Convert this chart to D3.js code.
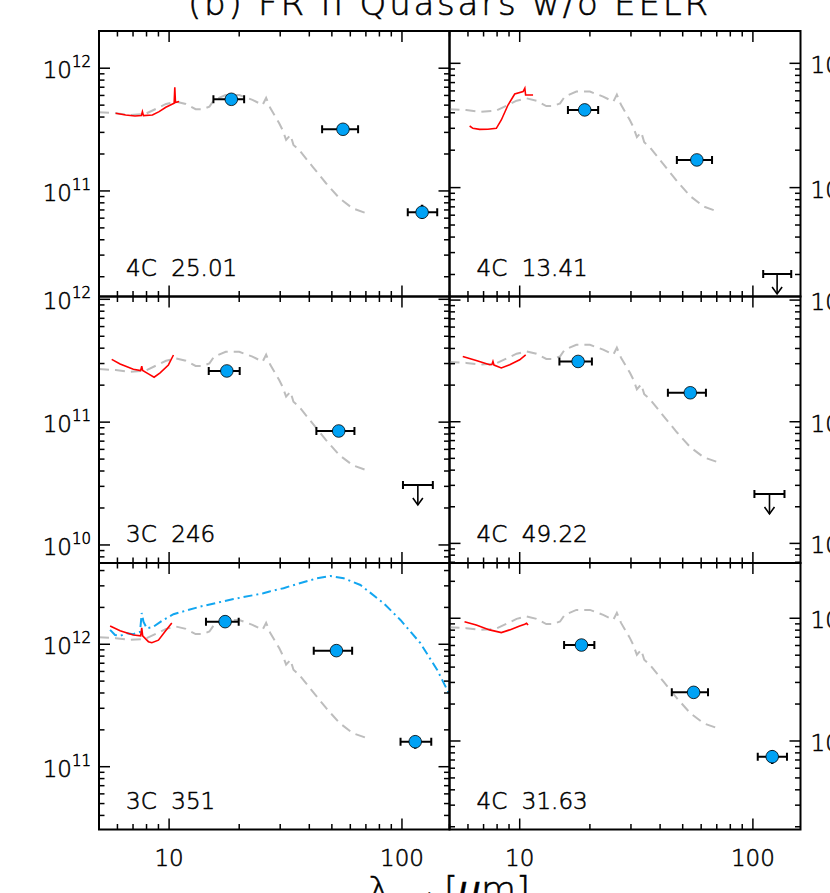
<!DOCTYPE html>
<html>
<head>
<meta charset="utf-8">
<script src="https://cdn.jsdelivr.net/npm/d3@7"></script>
<style>
  body { margin: 0; background: #fff; }
  svg { display: block; font-family: "DejaVu Sans", "Liberation Sans", sans-serif; font-weight: 200; }
  svg text { fill: #000; stroke: #000; stroke-width: 0.55; }
</style>
</head>
<body>
<svg id="chart" width="830" height="893"></svg>
<script>

// ---- data ----
const title = "(b) FR II Quasars w/o EELR";
const names = ["4C  25.01", "4C  13.41", "3C  246", "4C  49.22", "3C  351", "4C  31.63"];
const xDomain = [5, 160];
const xLabels = [10, 100];
const yDomains = [
  [1.38e10, 2.01e12], [1.33e10, 1.82e12],
  [7.13e9, 1.054e12], [6.9e9, 1.07e12],
  [3.07e10, 4.61e12], [1.9e10, 2.82e12]
];

// scaled template (grey dashed), normalised to its 20 um peak
const templateWave = [5.0, 5.9, 6.8, 7.9, 8.9, 9.7, 10.7, 11.8, 13.0, 13.9, 14.9, 15.6, 17.5, 20.0, 22.8,
  25.2, 26.1, 27.2, 29.7, 30.7, 31.8, 33.2, 34.2, 36.2, 41.3, 47.2, 53.9, 61.5, 70.1];
const templateRel = [0.723, 0.710, 0.687, 0.701, 0.780, 0.845, 0.883, 0.845, 0.766, 0.766, 0.804, 0.912, 1.0, 1.0, 0.912,
  0.830, 0.946, 0.783, 0.589, 0.519, 0.431, 0.472, 0.392, 0.356, 0.261, 0.191, 0.144, 0.119, 0.109];
const templatePeak = [6.05e11, 5.92e11, 3.74e11, 4.29e11, 1.58e12, 1.17e12];

// IRS spectra (red)
const irsWave = [
  [5.9, 6.51, 7.14, 7.6, 7.68, 7.76, 8.48, 9.06, 9.68, 10.51, 10.58, 10.65, 11.04],
  [6.1, 6.3, 6.73, 7.3, 7.94, 8.34, 8.91, 9.52, 10.34, 10.52, 10.6, 10.75, 11.41],
  [5.67, 6.16, 7.02, 7.55, 7.63, 7.7, 8.15, 8.62, 9.15, 9.93, 10.44],
  [5.7, 6.51, 7.43, 7.6, 7.68, 7.76, 8.34, 9.06, 10.0, 10.61],
  [5.58, 6.16, 7.02, 7.55, 7.63, 7.7, 8.15, 8.43, 9.0, 9.61, 10.27],
  [5.8, 6.51, 7.43, 8.34, 9.06, 10.0, 10.51, 10.7, 10.86]
];
const irsFlux = [
  [4.30e11, 4.16e11, 4.08e11, 4.11e11, 4.43e11, 4.11e11, 4.16e11, 4.43e11, 4.81e11, 5.19e11, 7.0e11, 5.25e11, 5.35e11],
  [3.13e11, 3.0e11, 2.94e11, 2.95e11, 3.0e11, 3.5e11, 4.62e11, 5.66e11, 5.92e11, 6.3e11, 5.56e11, 5.56e11, 5.56e11],
  [3.24e11, 2.97e11, 2.69e11, 2.63e11, 2.86e11, 2.63e11, 2.47e11, 2.32e11, 2.52e11, 2.92e11, 3.52e11],
  [3.44e11, 3.19e11, 2.94e11, 2.95e11, 3.13e11, 2.92e11, 2.77e11, 2.94e11, 3.23e11, 3.55e11],
  [1.41e12, 1.29e12, 1.19e12, 1.17e12, 1.36e12, 1.17e12, 1.05e12, 1.03e12, 1.08e12, 1.27e12, 1.49e12],
  [9.37e11, 8.81e11, 8.04e11, 7.64e11, 8.04e11, 8.65e11, 8.93e11, 9.1e11, 8.81e11]
];

// 3C 351 model (blue dash-dot)
const fitPanel = 4;
const fitWave = [5.58, 5.86, 6.16, 6.58, 7.02, 7.5, 7.63, 7.76, 8.02, 8.56, 9.45, 10.44, 13.6, 18.9, 25.4,
  27.0, 31.0, 33.2, 43.2, 49.3, 56.2, 66.3, 83.5, 98.5, 120, 141.7, 161.7];
const fitFlux = [1.31e12, 1.19e12, 1.17e12, 1.23e12, 1.21e12, 1.26e12, 1.80e12, 1.53e12, 1.35e12, 1.39e12, 1.58e12, 1.76e12, 2.03e12, 2.34e12, 2.61e12,
  2.70e12, 2.87e12, 2.99e12, 3.46e12, 3.61e12, 3.46e12, 3.05e12, 2.16e12, 1.58e12, 1.02e12, 6.17e11, 3.73e11];

// photometry (blue circles) with wavelength ranges
const photWave = [[18.5, 55.8, 122], [19.0, 57.5], [17.7, 53.5], [17.8, 53.9], [17.4, 52.3, 114], [18.4, 55.7, 121]];
const photWaveLo = [[15.5, 45.4, 105.9], [16.1, 47.2], [14.8, 42.9], [14.8, 43.2], [14.4, 41.8, 98.6], [15.5, 44.9, 104.9]];
const photWaveHi = [[21.0, 64.8, 141.7], [21.7, 66.8], [20.1, 62.5], [20.4, 62.9], [19.9, 61.1, 133.6], [20.9, 64.2, 140]];
const photFlux = [[5.58e11, 3.18e11, 6.7e10], [4.22e11, 1.67e11], [2.61e11, 8.47e10], [3.13e11, 1.73e11], [1.53e12, 8.87e11, 1.60e11], [6.05e11, 2.49e11, 7.45e10]];
const photFluxLo = [[5.58e11, 3.18e11, 5.9e10], [4.22e11, 1.67e11], [2.61e11, 8.47e10], [3.13e11, 1.73e11], [1.53e12, 8.87e11, 1.40e11], [6.05e11, 2.49e11, 6.5e10]];
const photFluxHi = [[5.58e11, 3.18e11, 7.7e10], [4.22e11, 1.67e11], [2.61e11, 8.47e10], [3.13e11, 1.73e11], [1.53e12, 8.87e11, 1.79e11], [6.05e11, 2.49e11, 8.45e10]];

// 160 um upper limits
const limWave = [null, 127, 117, 117.8, null, null];
const limWaveLo = [null, 110.7, 101, 101.5, null, null];
const limWaveHi = [null, 146, 135.7, 136.6, null, null];
const limFlux = [null, 2.02e10, 3.08e10, 2.55e10, null, null];

// ---- layout ----
const colX = [[99, 449.5], [449.5, 800.5]];
const rowY = [[31, 296.5], [296.5, 563], [563, 829.5]];
const blue = "#00a2f5";

const svg = d3.select("#chart");

function isDecade(t) {
  return Math.abs(Math.log10(t) - Math.round(Math.log10(t))) < 1e-6;
}

names.forEach((name, i) => {
  const col = i % 2, row = Math.floor(i / 2);
  const [x0, x1] = colX[col];
  const [y0, y1] = rowY[row];
  const x = d3.scaleLog().domain(xDomain).range([x0, x1]);
  const y = d3.scaleLog().domain(yDomains[i]).range([y1, y0]);

  const g = svg.append("g");

  svg.append("clipPath").attr("id", "clip" + i)
    .append("rect")
    .attr("x", x0).attr("y", y0)
    .attr("width", x1 - x0).attr("height", y1 - y0);

  const plot = g.append("g").attr("clip-path", `url(#clip${i})`);
  const line = d3.line().x(d => x(d[0])).y(d => y(d[1]));

  // template
  plot.append("path")
    .datum(templateWave.map((w, k) => [w, templateRel[k] * templatePeak[i]]))
    .attr("d", line)
    .attr("fill", "none")
    .attr("stroke", "#bdbdbd")
    .attr("stroke-width", 2)
    .attr("stroke-dasharray", "10,6");

  // model for 3C 351
  if (i == fitPanel) {
    plot.append("path")
      .datum(fitWave.map((w, k) => [w, fitFlux[k]]))
      .attr("d", line)
      .attr("fill", "none")
      .attr("stroke", "#12a6f0")
      .attr("stroke-width", 2)
      .attr("stroke-dasharray", "9,4,2,4");
  }

  // IRS spectrum
  plot.append("path")
    .datum(irsWave[i].map((w, k) => [w, irsFlux[i][k]]))
    .attr("d", line)
    .attr("fill", "none")
    .attr("stroke", "#ff0000")
    .attr("stroke-width", 1.6);

  // upper limit
  if (limWave[i] != null) {
    const ly = y(limFlux[i]);
    const lx = x(limWave[i]);
    const ul = plot.append("g").attr("stroke", "#000").attr("stroke-width", 2).attr("fill", "none");
    ul.append("line").attr("x1", x(limWaveLo[i])).attr("x2", x(limWaveHi[i])).attr("y1", ly).attr("y2", ly);
    ul.append("line").attr("x1", x(limWaveLo[i])).attr("x2", x(limWaveLo[i])).attr("y1", ly - 4).attr("y2", ly + 4);
    ul.append("line").attr("x1", x(limWaveHi[i])).attr("x2", x(limWaveHi[i])).attr("y1", ly - 4).attr("y2", ly + 4);
    ul.append("line").attr("x1", lx).attr("x2", lx).attr("y1", ly).attr("y2", ly + 20).attr("stroke-width", 1.6);
    ul.append("path").attr("d", `M${lx - 5},${ly + 13}L${lx},${ly + 20}L${lx + 5},${ly + 13}`).attr("stroke-width", 1.6);
  }

  // photometry
  const pts = photWave[i].map((w, k) => ({
    w: w, lo: photWaveLo[i][k], hi: photWaveHi[i][k],
    f: photFlux[i][k], flo: photFluxLo[i][k], fhi: photFluxHi[i][k]
  }));
  const pg = plot.selectAll("g.pt").data(pts).join("g").attr("class", "pt")
    .attr("stroke", "#000").attr("stroke-width", 2);
  pg.append("line").attr("x1", d => x(d.lo)).attr("x2", d => x(d.hi)).attr("y1", d => y(d.f)).attr("y2", d => y(d.f));
  pg.append("line").attr("x1", d => x(d.lo)).attr("x2", d => x(d.lo)).attr("y1", d => y(d.f) - 4).attr("y2", d => y(d.f) + 4);
  pg.append("line").attr("x1", d => x(d.hi)).attr("x2", d => x(d.hi)).attr("y1", d => y(d.f) - 4).attr("y2", d => y(d.f) + 4);
  pg.append("line").attr("x1", d => x(d.w)).attr("x2", d => x(d.w)).attr("y1", d => y(d.fhi)).attr("y2", d => y(d.flo)).attr("stroke-width", 2.5);
  pg.append("circle").attr("cx", d => x(d.w)).attr("cy", d => y(d.f)).attr("r", 6.3)
    .attr("fill", blue).attr("stroke-width", 0.8);

  // ticks on all four sides, pointing inward
  const ticks = g.append("g").attr("stroke", "#000").attr("stroke-width", 1.5);
  x.ticks().forEach(t => {
    const len = isDecade(t) ? 11 : 5.5;
    ticks.append("line").attr("x1", x(t)).attr("x2", x(t)).attr("y1", y1).attr("y2", y1 - len);
    ticks.append("line").attr("x1", x(t)).attr("x2", x(t)).attr("y1", y0).attr("y2", y0 + len);
  });
  y.ticks().forEach(t => {
    const len = isDecade(t) ? 11 : 5.5;
    ticks.append("line").attr("x1", x0).attr("x2", x0 + len).attr("y1", y(t)).attr("y2", y(t));
    ticks.append("line").attr("x1", x1).attr("x2", x1 - len).attr("y1", y(t)).attr("y2", y(t));
  });

  // frame
  g.append("rect")
    .attr("x", x0).attr("y", y0)
    .attr("width", x1 - x0).attr("height", y1 - y0)
    .attr("fill", "none").attr("stroke", "#000").attr("stroke-width", 2);

  // y labels: left column on the left, right column on the right
  y.ticks().filter(isDecade).forEach(t => {
    const lab = g.append("text")
      .attr("x", col == 0 ? x0 - 8 : x1 + 10)
      .attr("y", y(t) + 10)
      .attr("text-anchor", col == 0 ? "end" : "start")
      .attr("font-size", 23);
    lab.append("tspan").text("10");
    lab.append("tspan").attr("dy", -11).attr("font-size", 15).text(Math.round(Math.log10(t)));
  });

  // x labels on the bottom row
  if (row == 2) {
    xLabels.forEach(t => {
      g.append("text")
        .attr("x", x(t)).attr("y", y1 + 36)
        .attr("text-anchor", "middle")
        .attr("font-size", 23)
        .text(t);
    });
  }

  // source name
  g.append("text")
    .attr("x", x0 + 27).attr("y", y1 - 21)
    .attr("font-size", 23)
    .style("white-space", "pre")
    .text(name);
});

// title
svg.append("text")
  .attr("x", 188).attr("y", 15)
  .attr("font-size", 34)
  .attr("textLength", 520)
  .attr("lengthAdjust", "spacing")
  .text(title);

// x axis title
const xt = svg.append("text")
  .attr("x", 368).attr("y", 902)
  .attr("font-size", 36);
xt.append("tspan").text("λ");
xt.append("tspan").attr("font-size", 24).attr("dy", 8).text("rest");
xt.append("tspan").attr("dy", -8).attr("x", 444).text("[");
xt.append("tspan").attr("font-style", "italic").text("μ");
xt.append("tspan").text("m]");

</script>
</body>
</html>
